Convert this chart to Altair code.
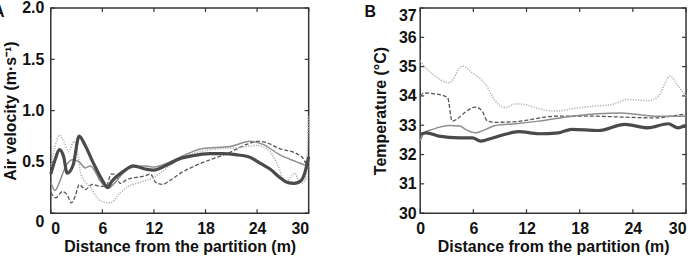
import altair as alt
import pandas as pd

FONT = "Liberation Sans"
INK = "#111111"
FRAME = "#333333"

# Tick values
x_ticks = [0, 6, 12, 18, 24, 30]
vel_ticks = [0, 0.5, 1.0, 1.5, 2.0]
temp_ticks = [30, 31, 32, 33, 34, 35, 36, 37]

# ---- Panel A: air velocity (m/s) vs distance (m) ----
vel_thick_x = [0, 0.5, 1.0, 1.5, 1.9, 2.6, 3.3, 4.0, 5.0, 6.0, 6.6, 7.1, 8.5, 9.6, 11.0, 12.0,
               13.5, 15.0, 16.5, 18.5, 20.0, 21.5, 23.0, 24.5, 25.5, 26.6, 27.5, 28.3, 29.0, 29.5, 30.0]
vel_thick_y = [0.38, 0.52, 0.62, 0.55, 0.39, 0.47, 0.75, 0.66, 0.48, 0.32, 0.25, 0.31, 0.41, 0.46, 0.43, 0.42,
               0.47, 0.53, 0.56, 0.58, 0.58, 0.57, 0.55, 0.48, 0.43, 0.35, 0.30, 0.29, 0.31, 0.38, 0.55]

vel_gray_x = [0, 0.5, 1.0, 1.7, 2.5, 3.3, 4.0, 4.6, 5.8, 6.6, 7.5, 8.5, 9.6, 11.0, 12.0,
              13.9, 16.2, 17.7, 20.9, 23.2, 24.7, 26.6, 28.6, 29.5, 30.0]
vel_gray_y = [0.30, 0.22, 0.30, 0.45, 0.52, 0.50, 0.44, 0.46, 0.31, 0.24, 0.30, 0.40, 0.45, 0.46, 0.45,
              0.50, 0.59, 0.63, 0.65, 0.70, 0.67, 0.57, 0.50, 0.47, 0.45]

vel_dot_x = [0, 0.5, 1.0, 1.5, 2.1, 2.7, 3.1, 3.5, 4.6, 5.8, 6.9, 8.1, 9.0, 10.4, 12.2,
             13.5, 15.0, 16.5, 18.0, 20.0, 22.0, 24.0, 25.5, 26.5, 27.2, 28.0, 28.4, 29.0, 29.6, 30.0]
vel_dot_y = [0.45, 0.65, 0.76, 0.70, 0.60, 0.70, 0.60, 0.38, 0.25, 0.12, 0.10, 0.20, 0.26, 0.30, 0.36,
             0.44, 0.53, 0.58, 0.61, 0.63, 0.64, 0.66, 0.60, 0.45, 0.30, 0.36, 0.39, 0.29, 0.32, 0.95]

vel_dash_x = [0, 0.6, 1.35, 1.9, 2.4, 2.9, 3.3, 4.05, 4.8, 5.8, 6.5, 7.0, 7.4, 8.1, 8.9, 10.8, 11.6,
              12.2, 13.0, 13.9, 15.1, 16.5, 18.5, 20.5, 22.8, 24.0, 25.0, 26.6, 28.6, 29.3, 29.7, 30.0]
vel_dash_y = [0.20, 0.15, 0.21, 0.18, 0.10, 0.18, 0.28, 0.23, 0.28, 0.26, 0.27, 0.38, 0.38, 0.29, 0.33, 0.36, 0.38,
              0.30, 0.28, 0.32, 0.39, 0.45, 0.52, 0.58, 0.67, 0.70, 0.69, 0.63, 0.58, 0.54, 0.48, 0.42]

# ---- Panel B: temperature (deg C) vs distance (m) ----
temp_dot_x = [0, 0.5, 1.4, 3.3, 4.75, 5.9, 7.4, 8.5, 9.6, 10.75, 11.9, 13.4, 15.3, 17.5, 20.0,
              21.5, 23.5, 25.7, 26.9, 28.2, 29.1, 30.0]
temp_dot_y = [35.2, 35.0, 34.75, 34.45, 35.02, 34.79, 34.39, 33.82, 33.6, 33.73, 33.7, 33.56, 33.48, 33.58, 33.66,
              33.7, 33.88, 33.84, 34.0, 34.68, 34.34, 33.98]

temp_dash_x = [0, 0.45, 2.1, 3.1, 3.6, 4.2, 5.1, 6.25, 7.0, 7.6, 8.5, 10.75, 12.6, 14.1, 15.6,
               19.0, 22.7, 26.5, 28.4, 29.85, 30.0]
temp_dash_y = [34.0, 34.1, 34.05, 33.94, 33.14, 33.22, 33.45, 33.62, 33.48, 33.14, 33.1, 33.12, 33.2, 33.28, 33.31,
               33.31, 33.28, 33.25, 33.31, 33.37, 33.3]

temp_gray_x = [0, 0.45, 1.4, 3.3, 4.5, 5.1, 6.25, 7.4, 8.5, 10.75, 13.4, 17.1, 22.7, 26.5, 29.85, 30.0]
temp_gray_y = [32.46, 32.74, 32.86, 32.99, 32.97, 32.86, 32.74, 32.86, 32.99, 33.05, 33.14, 33.31, 33.42, 33.31, 33.31, 33.3]

temp_thick_x = [0, 0.7, 2.1, 4.4, 5.9, 6.8, 7.7, 9.6, 11.1, 13.4, 15.6, 17.1, 20.1, 23.1, 25.7, 28.0, 29.1, 29.85, 30.0]
temp_thick_y = [32.69, 32.74, 32.63, 32.57, 32.57, 32.46, 32.52, 32.69, 32.78, 32.71, 32.74, 32.86, 32.82, 33.03,
                32.91, 33.05, 32.91, 32.97, 32.95]

A_W, A_H = 259, 206
B_W, B_H = 267, 206
TICK = 4

styles = {
    "thick": dict(color="#4a4a4a", strokeWidth=3.2),
    "gray": dict(color="#8e8e8e", strokeWidth=1.5),
    "dot": dict(color="#b3b3b3", strokeWidth=1.6, strokeDash=[1.2, 1.4]),
    "dash": dict(color="#555555", strokeWidth=1.3, strokeDash=[4, 2]),
}


def series(xs, ys, yfield, style, xenc, yenc):
    df = pd.DataFrame({"d": xs, yfield: ys})
    return alt.Chart(df).mark_line(interpolate="monotone", **styles[style]).encode(x=xenc, y=yenc)


def inner_ticks(xvals, yvals, yfield, xenc, yenc, w, h):
    dx = pd.DataFrame({"d": xvals})
    dy = pd.DataFrame({yfield: yvals})
    rule = dict(color=FRAME, strokeWidth=1.2)
    bottom = alt.Chart(dx).mark_rule(**rule).encode(x=xenc, y=alt.value(h), y2=alt.value(h - TICK))
    top = alt.Chart(dx).mark_rule(**rule).encode(x=xenc, y=alt.value(0), y2=alt.value(TICK))
    left = alt.Chart(dy).mark_rule(**rule).encode(y=yenc, x=alt.value(0), x2=alt.value(TICK))
    right = alt.Chart(dy).mark_rule(**rule).encode(y=yenc, x=alt.value(w), x2=alt.value(w - TICK))
    return [bottom, top, left, right]


def panel_label(letter, xpos, ypos):
    return alt.Chart(pd.DataFrame({"d": [0]})).mark_text(
        text=letter, align="right" if letter == "A" else "left", baseline="top",
        font=FONT, fontSize=16, fontWeight="bold", color=INK,
    ).encode(x=alt.value(xpos), y=alt.value(ypos))


axis_common = dict(
    ticks=False, domain=False, grid=False, labelOverlap=False,
    labelFont=FONT, titleFont=FONT, labelFontSize=16, titleFontSize=16,
    labelFontWeight="bold", titleFontWeight="bold", labelColor=INK, titleColor=INK,
)

# Panel A
xaxis_a = alt.Axis(values=x_ticks, format="d", title="Distance from the partition (m)",
                   labelPadding=7, titlePadding=3, **axis_common)
yaxis_a = alt.Axis(values=vel_ticks, title="Air velocity (m·s⁻¹)",
                   labelExpr="datum.value == 0 ? '0' : format(datum.value, '.1f')",
                   labelBaseline={"condition": {"test": "datum.value == 0", "value": "top"}, "value": "middle"},
                   labelPadding=7, titlePadding=3, **axis_common)
xenc_a = alt.X("d:Q", scale=alt.Scale(domain=[0, 30], nice=False, zero=False), axis=xaxis_a)
yenc_a = alt.Y("v:Q", scale=alt.Scale(domain=[0, 2], nice=False), axis=yaxis_a)

layers_a = inner_ticks(x_ticks, vel_ticks, "v", xenc_a, yenc_a, A_W, A_H)
layers_a += [
    series(vel_dash_x, vel_dash_y, "v", "dash", xenc_a, yenc_a),
    series(vel_dot_x, vel_dot_y, "v", "dot", xenc_a, yenc_a),
    series(vel_gray_x, vel_gray_y, "v", "gray", xenc_a, yenc_a),
    series(vel_thick_x, vel_thick_y, "v", "thick", xenc_a, yenc_a),
    panel_label("A", -46.5, -4),
]
panel_a = alt.layer(*layers_a).properties(width=A_W, height=A_H)

# Panel B
xaxis_b = alt.Axis(values=x_ticks, format="d", title="Distance from the partition (m)",
                   labelAlign={"condition": {"test": "datum.value == 30", "value": "right"}, "value": "center"},
                   labelPadding=7, titlePadding=3, **axis_common)
yaxis_b = alt.Axis(values=temp_ticks, format="d", title="Temperature (°C)",
                   labelBaseline={"condition": {"test": "datum.value == 37", "value": "top"}, "value": "middle"},
                   labelPadding=4, titlePadding=10, **axis_common)
xenc_b = alt.X("d:Q", scale=alt.Scale(domain=[0, 30], nice=False, zero=False), axis=xaxis_b)
yenc_b = alt.Y("t:Q", scale=alt.Scale(domain=[30, 37], nice=False, zero=False), axis=yaxis_b)

layers_b = inner_ticks(x_ticks, temp_ticks, "t", xenc_b, yenc_b, B_W, B_H)
layers_b += [
    series(temp_dot_x, temp_dot_y, "t", "dot", xenc_b, yenc_b),
    series(temp_dash_x, temp_dash_y, "t", "dash", xenc_b, yenc_b),
    series(temp_gray_x, temp_gray_y, "t", "gray", xenc_b, yenc_b),
    series(temp_thick_x, temp_thick_y, "t", "thick", xenc_b, yenc_b),
    panel_label("B", -56, -4),
]
panel_b = alt.layer(*layers_b).properties(width=B_W, height=B_H)

chart = alt.hconcat(panel_a, panel_b, spacing=112, bounds="flush").properties(
    padding={"left": -8, "top": -1.5, "right": 0, "bottom": 0},
    background="white",
).configure_view(stroke=FRAME, strokeWidth=1.5)

chart.save("out.html", embed_options={"renderer": "svg", "actions": False})
